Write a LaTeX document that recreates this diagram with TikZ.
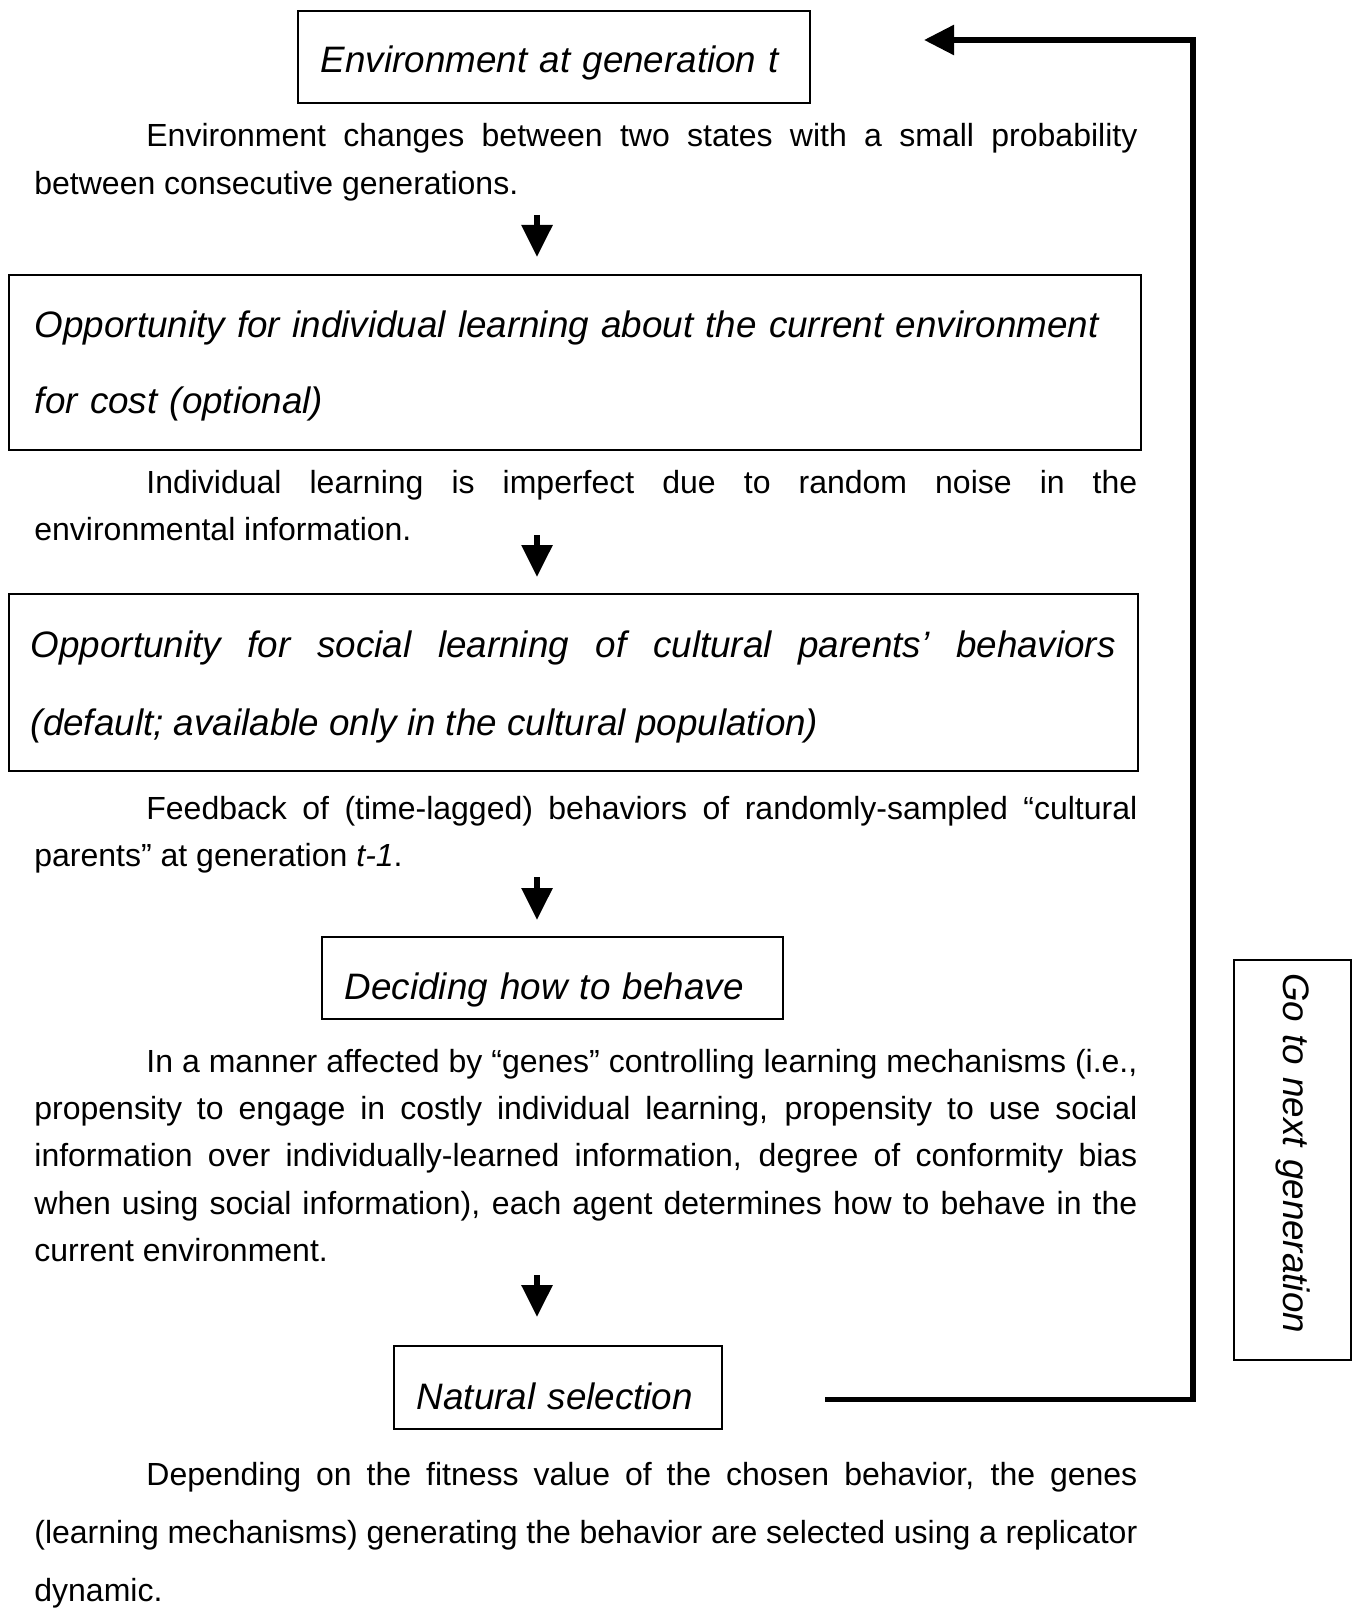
\documentclass[tikz,border=0pt]{standalone}
\usepackage{fontspec}
\setmainfont{Liberation Sans}
\usetikzlibrary{arrows.meta}

\tikzset{
  stagebox/.style={draw, line width=0.8pt, anchor=north west, inner ysep=0pt, inner xsep=11.5pt,
    align=left, font=\fontsize{18.4}{38}\selectfont\itshape},
  stagenote/.style={anchor=base west, inner sep=0pt, text width=551.5pt, align=justify,
    font=\fontsize{16}{23.7}\selectfont,
    execute at begin node={\hyphenpenalty=10000\exhyphenpenalty=10000\tolerance=10000}},
  steparrow/.style={line width=3pt, -{Triangle[length=16pt, width=15pt]}},
  returnline/.style={line width=2.8pt, -{Triangle[length=15pt, width=14.5pt]}},
}

\begin{document}
\begin{tikzpicture}[x=0.5pt, y=-0.5pt]
    \path[fill=white, use as bounding box] (0,0) rectangle (1356,1609);

    % stages of one generation
    \node[stagebox, text height=16pt, text depth=0pt, minimum width=256pt, minimum height=46pt,
      text width=233pt] (env) at (297,10) {Environment at generation t};
    \node[stagenote] (envnote) at (34,147) {\hspace*{56pt}Environment changes between two states
      with a small probability\linebreak between consecutive generations.};

    \node[stagebox, text height=17.5pt, minimum width=566pt, minimum height=87.5pt, inner xsep=13pt,
      text width=540pt] (indiv) at (8,274)
      {Opportunity for individual learning about the current environment\\for cost (optional)};
    \node[stagenote] (indivnote) at (34,493) {\hspace*{56pt}Individual learning is imperfect
      due to random noise in the\linebreak environmental information.};

    \node[stagebox, align=justify, text height=18.5pt, minimum width=564.5pt, minimum height=88.5pt,
      inner xsep=11pt, text width=542.5pt, font=\fontsize{18.4}{39}\selectfont\itshape]
      (social) at (8,593)
      {Opportunity for social learning of cultural parents’ behaviors\linebreak
       (default; available only in the cultural population)};
    \node[stagenote] (socialnote) at (34,819.5) {\hspace*{56pt}Feedback of (time-lagged)
      behaviors of randomly-sampled “cultural\linebreak parents” at generation \textit{t-1}.};

    \node[stagebox, text height=22pt, text depth=0pt, minimum width=230.5pt, minimum height=41pt,
      text width=207.5pt] (decide) at (321,936) {Deciding how to behave};
    \node[stagenote] (decidenote) at (34,1072) {\hspace*{56pt}In a manner affected by “genes”
      controlling learning mechanisms (i.e.,\linebreak propensity to engage in costly individual
      learning, propensity to use social\linebreak information over individually-learned
      information, degree of conformity bias\linebreak when using social information), each agent
      determines how to behave in the\linebreak current environment.};

    \node[stagebox, text height=22.5pt, text depth=0pt, minimum width=164pt, minimum height=41.5pt,
      text width=141pt] (select) at (393,1345) {Natural selection};
    \node[stagenote, font=\fontsize{16}{29.2}\selectfont] (selectnote) at (34,1485)
      {\hspace*{56pt}Depending on the fitness value of the chosen behavior, the genes\linebreak
       (learning mechanisms) generating the behavior are selected using a replicator\linebreak
       dynamic.};

    \node[stagebox, anchor=center, rotate=-90, minimum width=200pt, minimum height=58.5pt,
      inner xsep=6.5pt, text width=187pt] (next) at (1292.5,1160) {Go to next generation};

    % arrows between the stages
    \foreach \i/\from/\to in {1/215/257, 2/535/577, 3/877/920, 4/1275/1317} {
        \coordinate (s\i) at (537,\from);
        \coordinate (t\i) at (537,\to);
        \draw[steparrow] (s\i) -- (t\i);
    }

    % back to the top
    \coordinate (back) at (825,1399.5);
    \coordinate (corner) at (1193,40);
    \coordinate (backtip) at (924,40);
    \draw[returnline] (back) -| (corner) -- (backtip);
\end{tikzpicture}
\end{document}
